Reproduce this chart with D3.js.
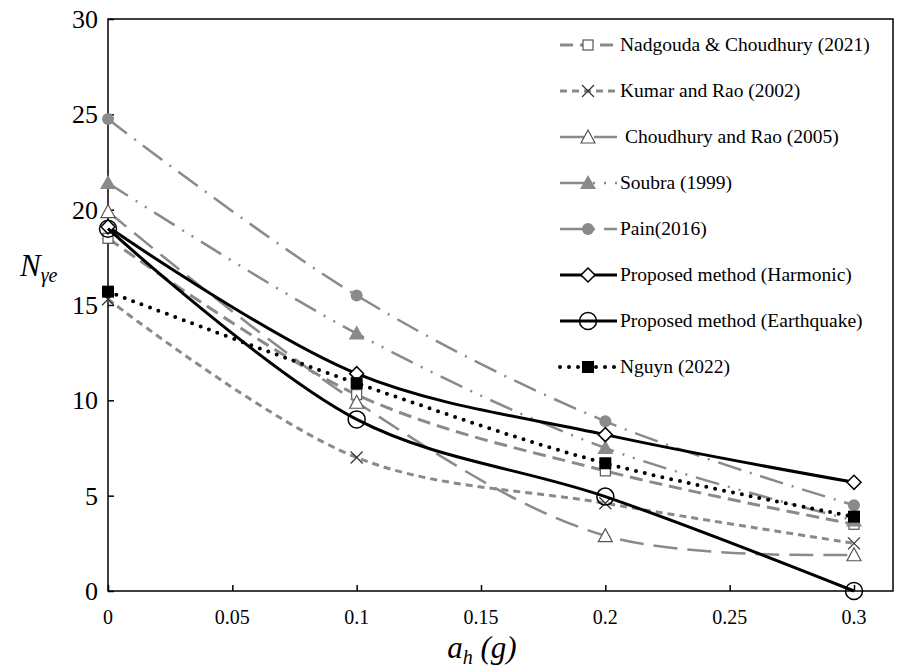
<!DOCTYPE html>
<html>
<head>
<meta charset="utf-8">
<script src="https://cdn.jsdelivr.net/npm/d3@7"></script>
</head>
<body style="margin:0">
<svg id="chart" width="904" height="667" style="font-family: 'Liberation Serif', serif"></svg>
<script>
// data
var ah = [0, 0.1, 0.2, 0.3];
var xTicks = [0, 0.05, 0.1, 0.15, 0.2, 0.25, 0.3];
var yTicks = [0, 5, 10, 15, 20, 25, 30];

var nadgouda   = [18.5, 10.3, 6.3, 3.5];
var kumar      = [15.3, 7.0, 4.6, 2.5];
var choudhury  = [19.9, 9.9, 2.9, 1.9];
var soubra     = [21.4, 13.5, 7.5, 3.7];
var pain       = [24.75, 15.5, 8.9, 4.5];
var harmonic   = [19.1, 11.4, 8.2, 5.7];
var earthquake = [19.0, 9.0, 4.95, 0.0];
var nguyn      = [15.7, 10.9, 6.7, 3.9];

var names = ["Nadgouda & Choudhury (2021)", "Kumar and Rao (2002)", " Choudhury and Rao (2005)",
             "Soubra (1999)", "Pain(2016)", "Proposed method (Harmonic)",
             "Proposed method (Earthquake)", "Nguyn (2022)"];

var gray = "#8a8a8a";
var fontName = "'Liberation Serif', serif";
var series = [
  {name: names[0], values: nadgouda,   color: gray,   width: 3,   dash: "13,7",             marker: "openSquare"},
  {name: names[1], values: kumar,      color: gray,   width: 3,   dash: "7,5",              marker: "cross"},
  {name: names[2], values: choudhury,  color: gray,   width: 2.5, dash: "24,10",            marker: "openTriangle"},
  {name: names[3], values: soubra,     color: gray,   width: 2.5, dash: "24,9,2,9,2,9",     marker: "triangle"},
  {name: names[4], values: pain,       color: gray,   width: 2.5, dash: "24,9,2,9",         marker: "circle"},
  {name: names[5], values: harmonic,   color: "#000", width: 3,   dash: null,               marker: "diamond"},
  {name: names[6], values: earthquake, color: "#000", width: 3,   dash: null,               marker: "openCircle"},
  {name: names[7], values: nguyn,      color: "#000", width: 4,   dash: "0,9",              marker: "square"}
];

var plot = {left: 108, right: 893, top: 19, bottom: 591};

var svg = d3.select("#chart");

var x = d3.scaleLinear().domain([0, 0.3]).range([plot.left, 854]);
var y = d3.scaleLinear().domain([0, 30]).range([plot.bottom, plot.top]);

// frame
svg.append("rect")
  .attr("x", plot.left).attr("y", plot.top)
  .attr("width", plot.right - plot.left).attr("height", plot.bottom - plot.top)
  .attr("fill", "none").attr("stroke", "#000").attr("stroke-width", 1.5);

// axes, ticks pointing inward
var xAxis = d3.axisTop(x).tickValues(xTicks).tickSize(6).tickFormat("");
svg.append("g").attr("transform", "translate(0," + plot.bottom + ")").call(xAxis)
  .call(function(g) { g.select(".domain").remove(); g.selectAll("line").attr("stroke", "#000").attr("stroke-width", 1.5); })
  .attr("font-family", null);
var yAxis = d3.axisRight(y).tickValues(yTicks).tickSize(6).tickFormat("");
svg.append("g").attr("transform", "translate(" + plot.left + ",0)").call(yAxis)
  .call(function(g) { g.select(".domain").remove(); g.selectAll("line").attr("stroke", "#000").attr("stroke-width", 1.5); })
  .attr("font-family", null);

svg.selectAll(".xlab").data(xTicks).enter().append("text")
  .attr("class", "xlab")
  .attr("x", function(d) { return x(d); }).attr("y", 624)
  .attr("text-anchor", "middle").style("font-family", fontName).style("font-size", "20px")
  .text(function(d) { return d; });

svg.selectAll(".ylab").data(yTicks).enter().append("text")
  .attr("class", "ylab")
  .attr("x", 98).attr("y", function(d) { return y(d) + 9; })
  .attr("text-anchor", "end").style("font-family", fontName).style("font-size", "26px")
  .text(function(d) { return d; });

// axis titles
var xt = svg.append("text").attr("x", 482).attr("y", 658).attr("text-anchor", "middle")
  .style("font-family", fontName).style("font-size", "31px").style("font-style", "italic");
xt.append("tspan").text("a");
xt.append("tspan").attr("dy", 6).style("font-size", "20px").text("h");
xt.append("tspan").attr("dy", -6).text(" (g)");

var yt = svg.append("text").attr("x", 20).attr("y", 276).style("font-family", fontName)
  .style("font-size", "31px").style("font-style", "italic");
yt.append("tspan").text("N");
yt.append("tspan").attr("dy", 6).style("font-size", "20px").text("γe");

// markers
function drawMarker(g, type, cx, cy) {
  if (type === "openSquare") {
    g.append("rect").attr("x", cx - 5).attr("y", cy - 5).attr("width", 10).attr("height", 10)
      .attr("fill", "#fff").attr("stroke", "#555").attr("stroke-width", 1.2);
  } else if (type === "cross") {
    g.append("path").attr("d", "M" + (cx - 6) + "," + (cy - 6) + "L" + (cx + 6) + "," + (cy + 6) +
      "M" + (cx - 6) + "," + (cy + 6) + "L" + (cx + 6) + "," + (cy - 6))
      .attr("stroke", "#333").attr("stroke-width", 1.2).attr("fill", "none");
  } else if (type === "openTriangle") {
    g.append("path").attr("d", "M" + cx + "," + (cy - 7) + "L" + (cx + 7) + "," + (cy + 6) + "L" + (cx - 7) + "," + (cy + 6) + "Z")
      .attr("fill", "#fff").attr("stroke", "#555").attr("stroke-width", 1.2);
  } else if (type === "triangle") {
    g.append("path").attr("d", "M" + cx + "," + (cy - 8) + "L" + (cx + 8) + "," + (cy + 6) + "L" + (cx - 8) + "," + (cy + 6) + "Z")
      .attr("fill", gray);
  } else if (type === "circle") {
    g.append("circle").attr("cx", cx).attr("cy", cy).attr("r", 6).attr("fill", gray);
  } else if (type === "diamond") {
    g.append("path").attr("d", "M" + cx + "," + (cy - 7) + "L" + (cx + 7) + "," + cy + "L" + cx + "," + (cy + 7) + "L" + (cx - 7) + "," + cy + "Z")
      .attr("fill", "#fff").attr("stroke", "#000").attr("stroke-width", 1.5);
  } else if (type === "openCircle") {
    g.append("circle").attr("cx", cx).attr("cy", cy).attr("r", 8.5)
      .attr("fill", "none").attr("stroke", "#000").attr("stroke-width", 1.5);
  } else if (type === "square") {
    g.append("rect").attr("x", cx - 6).attr("y", cy - 6).attr("width", 12).attr("height", 12).attr("fill", "#000");
  }
}

var line = d3.line()
  .x(function(d, i) { return x(ah[i]); })
  .y(function(d) { return y(d); })
  .curve(d3.curveCatmullRom.alpha(0.5));

series.forEach(function(s) {
  var g = svg.append("g");
  g.append("path").datum(s.values)
    .attr("d", line)
    .attr("fill", "none")
    .attr("stroke", s.color)
    .attr("stroke-width", s.width)
    .attr("stroke-linecap", s.dash === "0,9" ? "round" : "butt")
    .attr("stroke-dasharray", s.dash);
  s.values.forEach(function(v, i) { drawMarker(g, s.marker, x(ah[i]), y(v)); });
});

// legend
var legY = d3.scalePoint().domain(names).range([45, 367]);
series.forEach(function(s) {
  var g = svg.append("g");
  var ly = legY(s.name);
  g.append("line").attr("x1", 560).attr("x2", 617).attr("y1", ly).attr("y2", ly)
    .attr("stroke", s.color).attr("stroke-width", s.width)
    .attr("stroke-linecap", s.dash === "0,9" ? "round" : "butt")
    .attr("stroke-dasharray", s.dash);
  drawMarker(g, s.marker, 588, ly);
  g.append("text").attr("x", 620).attr("y", ly + 6).style("font-family", fontName).style("font-size", "19.5px")
    .attr("xml:space", "preserve").text(s.name);
});
</script>
</body>
</html>
